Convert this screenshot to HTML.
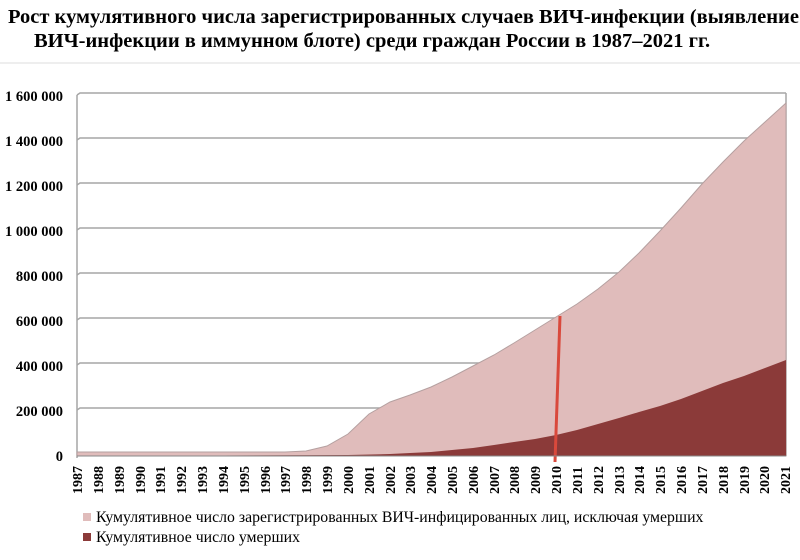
<!DOCTYPE html>
<html><head><meta charset="utf-8"><style>
body{margin:0;background:#fff;width:800px;height:555px;overflow:hidden;font-family:"Liberation Serif",serif}
</style></head><body>
<svg width="800" height="555" xmlns="http://www.w3.org/2000/svg" font-family="Liberation Serif, serif">
<text x="8" y="23" font-size="20.5" font-weight="bold">Рост кумулятивного числа зарегистрированных случаев ВИЧ-инфекции (выявление</text>
<text x="34" y="47" font-size="20.5" font-weight="bold">ВИЧ-инфекции в иммунном блоте) среди  граждан России в 1987–2021 гг.</text>
<line x1="0" y1="63" x2="800" y2="63" stroke="#ddd"/>
<g stroke="#a6a6a6" stroke-width="1.5" fill="none">
<path d="M77 95 L80 93 H786"/><path d="M77 140 L80 138 H786"/><path d="M77 185 L80 183 H786"/><path d="M77 230 L80 228 H786"/><path d="M77 275 L80 273 H786"/><path d="M77 320 L80 318 H786"/><path d="M77 365 L80 363 H786"/><path d="M77 410 L80 408 H786"/><path d="M77 456 L80 454 H786"/>
<line x1="77" y1="95" x2="77" y2="458"/>
<line x1="786" y1="93" x2="786" y2="456"/>
</g>
<g font-size="14.5" font-weight="bold" text-anchor="end">
<text x="63" y="101">1 600 000</text><text x="63" y="146">1 400 000</text><text x="63" y="191">1 200 000</text><text x="63" y="236">1 000 000</text><text x="63" y="281">800 000</text><text x="63" y="326">600 000</text><text x="63" y="371">400 000</text><text x="63" y="416">200 000</text><text x="63" y="461">0</text>
</g>
<path fill="#e0bcbb" stroke="#b5a0a0" stroke-width="1" d="M77 456 L77 452 L285 452 L306 451 L327 446 L348 434 L369 414 L390 402 L410 395 L431 387 L452 377 L473 366 L494 355 L514 343 L535 330 L556 317 L577 304 L598 289 L619 272 L639 253 L660 231 L681 208 L702 184 L723 162 L744 141 L765 122 L786 103 L786 456 Z"/>
<path fill="#8b3a39" d="M77 456 L348 455 L390 454 L410 453 L431 452 L452 450 L473 448 L494 445 L514 442 L535 439 L556 435 L577 430 L598 424 L619 418 L639 412 L660 406 L681 399 L702 391 L723 383 L744 376 L765 368 L786 360 L786 456 Z"/>
<line x1="560" y1="316" x2="555" y2="462" stroke="#d9493c" stroke-width="3"/>
<line x1="77" y1="456" x2="786" y2="456" stroke="#888"/>
<g font-size="14" font-weight="bold">
<text transform="translate(82,494) rotate(-90)">1987</text><text transform="translate(103,494) rotate(-90)">1988</text><text transform="translate(124,494) rotate(-90)">1989</text><text transform="translate(145,494) rotate(-90)">1990</text><text transform="translate(165,494) rotate(-90)">1991</text><text transform="translate(186,494) rotate(-90)">1992</text><text transform="translate(207,494) rotate(-90)">1993</text><text transform="translate(228,494) rotate(-90)">1994</text><text transform="translate(249,494) rotate(-90)">1995</text><text transform="translate(270,494) rotate(-90)">1996</text><text transform="translate(290,494) rotate(-90)">1997</text><text transform="translate(311,494) rotate(-90)">1998</text><text transform="translate(332,494) rotate(-90)">1999</text><text transform="translate(353,494) rotate(-90)">2000</text><text transform="translate(374,494) rotate(-90)">2001</text><text transform="translate(395,494) rotate(-90)">2002</text><text transform="translate(415,494) rotate(-90)">2003</text><text transform="translate(436,494) rotate(-90)">2004</text><text transform="translate(457,494) rotate(-90)">2005</text><text transform="translate(478,494) rotate(-90)">2006</text><text transform="translate(499,494) rotate(-90)">2007</text><text transform="translate(519,494) rotate(-90)">2008</text><text transform="translate(540,494) rotate(-90)">2009</text><text transform="translate(561,494) rotate(-90)">2010</text><text transform="translate(582,494) rotate(-90)">2011</text><text transform="translate(603,494) rotate(-90)">2012</text><text transform="translate(624,494) rotate(-90)">2013</text><text transform="translate(644,494) rotate(-90)">2014</text><text transform="translate(665,494) rotate(-90)">2015</text><text transform="translate(686,494) rotate(-90)">2016</text><text transform="translate(707,494) rotate(-90)">2017</text><text transform="translate(728,494) rotate(-90)">2018</text><text transform="translate(749,494) rotate(-90)">2019</text><text transform="translate(769,494) rotate(-90)">2020</text><text transform="translate(790,494) rotate(-90)">2021</text>
</g>
<rect x="83" y="513" width="8" height="8" fill="#e0bcbb"/>
<text x="96" y="522" font-size="15.8">Кумулятивное число зарегистрированных ВИЧ-инфицированных лиц, исключая умерших</text>
<rect x="83" y="533" width="8" height="8" fill="#8b3a39"/>
<text x="96" y="542" font-size="15.8">Кумулятивное число умерших</text>
</svg>
</body></html>
